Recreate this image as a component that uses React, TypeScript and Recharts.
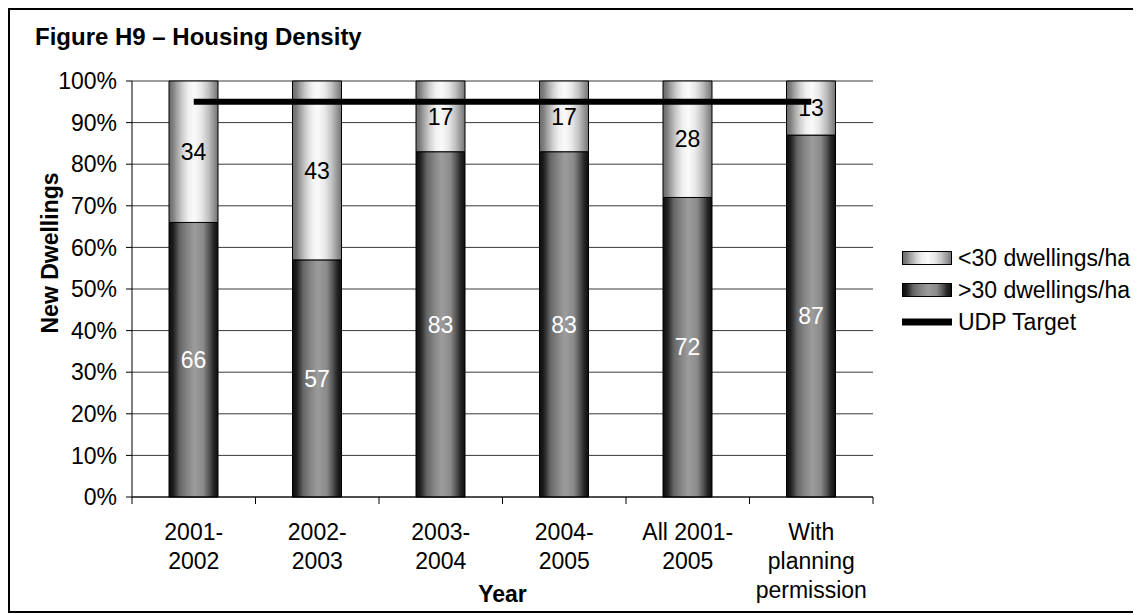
import React from 'react';
import { BarChart, Bar, Line, XAxis, YAxis, CartesianGrid, Legend, LabelList, Label } from 'recharts';

// Housing density – share of new dwellings above / below 30 dwellings per hectare
const categories = ['2001-\n2002', '2002-\n2003', '2003-\n2004', '2004-\n2005', 'All 2001-\n2005', 'With\nplanning\npermission'];
const over30 = [66, 57, 83, 83, 72, 87];
const under30 = [34, 43, 17, 17, 28, 13];
const udpTarget = [95, 95, 95, 95, 95, 95];
const yTicks = [0, 10, 20, 30, 40, 50, 60, 70, 80, 90, 100];

const data = categories.map((name, i) => ({
  name,
  over30: over30[i],
  under30: under30[i],
  target: udpTarget[i],
}));

const FONT = '"Liberation Sans", Arial, sans-serif';

// multi-line category label plus the separator ticks between categories
const CategoryTick = (props: any) => {
  const { x, y, payload, index, visibleTicksCount } = props;
  const half = payload?.offset ?? 0;
  const lines = String(payload.value).split('\n');
  return (
    <g>
      <line x1={x - half} x2={x - half} y1={y} y2={y + 7} stroke="#000" />
      {index === visibleTicksCount - 1 && (
        <line x1={x + half} x2={x + half} y1={y} y2={y + 7} stroke="#000" />
      )}
      <text x={x} y={y + 43} textAnchor="middle" fontSize={23} fontFamily={FONT} fill="#000">
        {lines.map((l, i) => (
          <tspan key={i} x={x} dy={i === 0 ? 0 : 29}>{l}</tspan>
        ))}
      </text>
    </g>
  );
};

const YTitle = (props: any) => {
  const { viewBox } = props;
  const cx = viewBox.x + 18;
  const cy = 245;
  return (
    <text x={cx} y={cy} transform={`rotate(-90, ${cx}, ${cy})`} textAnchor="middle" dominantBaseline="central"
      fontSize={23} fontWeight="bold" fontFamily={FONT} fill="#000">
      New Dwellings
    </text>
  );
};

const legendItems = [
  { label: '<30 dwellings/ha', kind: 'light' },
  { label: '>30 dwellings/ha', kind: 'dark' },
  { label: 'UDP Target', kind: 'line' },
];

const LegendBox = () => (
  <div style={{ fontFamily: FONT, fontSize: 23, color: '#000' }}>
    {legendItems.map((item) => (
      <div key={item.label} style={{ display: 'flex', alignItems: 'center', height: 32 }}>
        <svg width={51} height={16} style={{ flex: 'none' }}>
          {item.kind === 'line' ? (
            <rect x={0} y={4.5} width={50} height={7} fill="#000" />
          ) : (
            <rect x={0.5} y={1.5} width={49} height={13} stroke="#000" strokeWidth={1}
              fill={item.kind === 'light' ? 'url(#gLight)' : 'url(#gDark)'} />
          )}
        </svg>
        <span style={{ marginLeft: 5, lineHeight: 1, whiteSpace: 'nowrap' }}>{item.label}</span>
      </div>
    ))}
  </div>
);

export default function App() {
  return (
    <div style={{ position: 'relative', width: 1133, height: 605, background: '#fff' }}>
      <div style={{ position: 'absolute', left: 27, top: 17, fontFamily: FONT, fontSize: 24, fontWeight: 'bold', lineHeight: 1, whiteSpace: 'nowrap' }}>
        Figure H9 – Housing Density
      </div>
      <BarChart width={1133} height={605} data={data} margin={{ top: 73, right: 268, bottom: 0, left: 24 }}>
        <defs>
          <linearGradient id="gLight" x1="0" y1="0" x2="1" y2="0">
            <stop offset="0%" stopColor="#6a6a6a" />
            <stop offset="8%" stopColor="#7e7e7e" />
            <stop offset="16%" stopColor="#a2a2a2" />
            <stop offset="28%" stopColor="#d0d0d0" />
            <stop offset="40%" stopColor="#f0f0f0" />
            <stop offset="52%" stopColor="#fafafa" />
            <stop offset="66%" stopColor="#e8e8e8" />
            <stop offset="80%" stopColor="#c2c2c2" />
            <stop offset="91%" stopColor="#979797" />
            <stop offset="100%" stopColor="#737373" />
          </linearGradient>
          <linearGradient id="gDark" x1="0" y1="0" x2="1" y2="0">
            <stop offset="0%" stopColor="#0e0e0e" />
            <stop offset="8%" stopColor="#1c1c1c" />
            <stop offset="14%" stopColor="#3a3a3a" />
            <stop offset="22%" stopColor="#666" />
            <stop offset="38%" stopColor="#868686" />
            <stop offset="52%" stopColor="#9c9c9c" />
            <stop offset="70%" stopColor="#8a8a8a" />
            <stop offset="82%" stopColor="#555" />
            <stop offset="91%" stopColor="#262626" />
            <stop offset="100%" stopColor="#0e0e0e" />
          </linearGradient>
        </defs>
        <CartesianGrid vertical={false} stroke="#3a3a3a" />
        <XAxis dataKey="name" height={116} interval={0} tickSize={0} tickMargin={0} tickLine={false}
          axisLine={{ stroke: '#000' }} tick={<CategoryTick />}>
          <Label value="Year" position="insideBottom" offset={11} fontSize={23} fontWeight="bold"
            fontFamily={FONT} fill="#000" />
        </XAxis>
        {/* hidden twin axis so the value labels can sit above the target line */}
        <XAxis xAxisId="labels" dataKey="name" hide />
        <YAxis width={100} domain={[0, 100]} ticks={yTicks} interval={0} tickFormatter={(v) => `${v}%`}
          tickSize={6} tickMargin={9} axisLine={{ stroke: '#000' }} tickLine={{ stroke: '#000' }}
          tick={{ fontSize: 23, fill: '#000', fontFamily: FONT }}>
          <Label content={<YTitle />} />
        </YAxis>
        <YAxis yAxisId="frame" orientation="right" width={0} domain={[0, 100]} tick={false} tickLine={false}
          axisLine={{ stroke: '#000' }} />
        <Legend layout="horizontal" verticalAlign="middle" align="center"
          wrapperStyle={{ left: 894, top: 234, width: 240 }} content={<LegendBox />} />
        <Bar dataKey="over30" stackId="a" barSize={49} fill="url(#gDark)" stroke="#000" strokeWidth={1}
          isAnimationActive={false} />
        <Bar dataKey="under30" stackId="a" barSize={49} fill="url(#gLight)" stroke="#000" strokeWidth={1}
          isAnimationActive={false} />
        <Line dataKey="target" stroke="#000" strokeWidth={6} dot={false} activeDot={false}
          isAnimationActive={false} legendType="none" />
        <Bar xAxisId="labels" dataKey="over30" stackId="lbl" barSize={49} fill="none" stroke="none"
          isAnimationActive={false} legendType="none">
          <LabelList dataKey="over30" position="center" fill="#fff" fontSize={23} fontFamily={FONT} />
        </Bar>
        <Bar xAxisId="labels" dataKey="under30" stackId="lbl" barSize={49} fill="none" stroke="none"
          isAnimationActive={false} legendType="none">
          <LabelList dataKey="under30" position="center" fill="#000" fontSize={23} fontFamily={FONT} />
        </Bar>
      </BarChart>
      <div style={{ position: 'absolute', inset: 0, border: '2px solid #000', boxSizing: 'border-box', pointerEvents: 'none' }} />
    </div>
  );
}
